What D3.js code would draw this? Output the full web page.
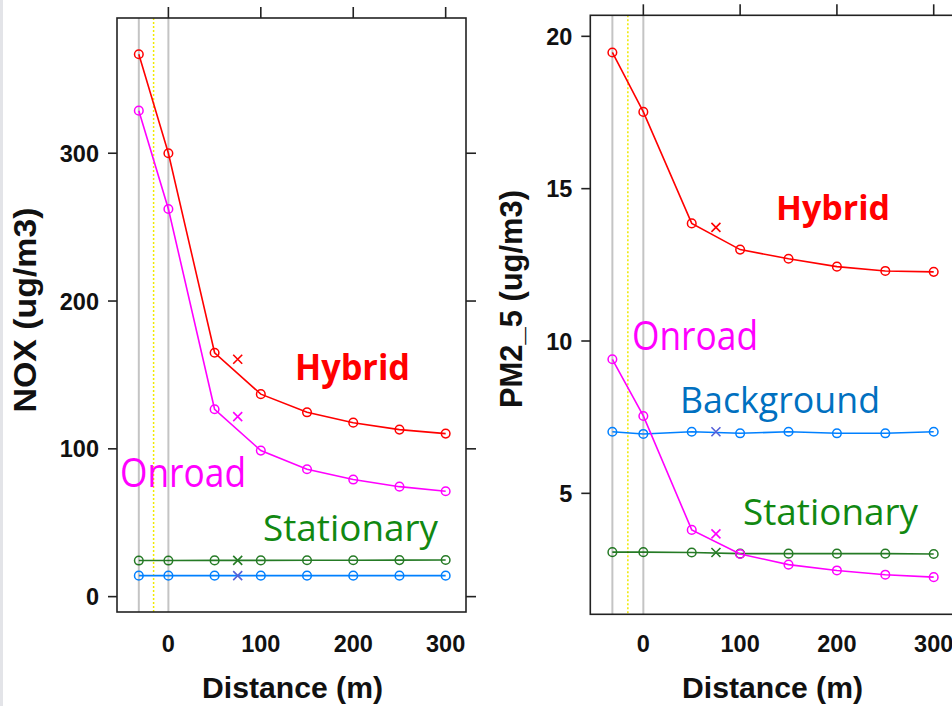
<!DOCTYPE html>
<html>
<head>
<meta charset="utf-8">
<script src="https://cdn.jsdelivr.net/npm/d3@7"></script>
<style>
  body { margin: 0; background: #fff; }
  svg { display: block; }
</style>
</head>
<body>
<svg id="chart"></svg>
<script>
// distances where the model was sampled, plus the odd "x" point at 75 m
const distances = [-32, 0, 50, 100, 150, 200, 250, 300];
const crossDistance = 75;
const seriesNames = ["Background", "Stationary", "Onroad", "Hybrid"];

// NOX panel
const noxBackground = [14.2, 14.2, 14.2, 14.2, 14.2, 14.2, 14.2, 14.2];
const noxStationary = [24.4, 24.4, 24.5, 24.5, 24.6, 24.6, 24.7, 24.8];
const noxOnroad = [328.8, 262.3, 126.8, 98.8, 86.2, 79.2, 74.4, 71.3];
const noxHybrid = [367, 300, 165, 137, 124.7, 117.7, 113, 110.3];
const noxCross = [14.2, 24.5, 121.8, 160.6];
const noxTicks = [0, 100, 200, 300];

// PM2.5 panel
const pmBackground = [7.02, 6.95, 7.02, 6.97, 7.02, 6.97, 6.97, 7.02];
const pmStationary = [3.07, 3.07, 3.06, 3.02, 3.02, 3.02, 3.02, 3.01];
const pmOnroad = [9.40, 7.54, 3.80, 3.01, 2.66, 2.47, 2.33, 2.25];
const pmHybrid = [19.47, 17.52, 13.86, 13.0, 12.7, 12.44, 12.3, 12.27];
const pmCross = [7.02, 3.06, 3.67, 13.73];
const pmTicks = [5, 10, 15, 20];

const xTicks = [0, 100, 200, 300];
const refLines = [-32, 0];
const roadEdge = -16;

const lineColors = { Background: "#0080ff", Stationary: "#006400", Onroad: "#ff00ff", Hybrid: "#ff0000" };
const crossColors = { Background: "#5560d8", Stationary: "#006400", Onroad: "#ff00ff", Hybrid: "#ff0000" };
const labelColors = { Background: "#0070c0", Stationary: "#118811", Onroad: "#ff00ff", Hybrid: "#ff0000" };

const W = 952, H = 706;
const svg = d3.select("#chart").attr("width", W).attr("height", H);

svg.append("rect").attr("width", W).attr("height", H).attr("fill", "#fff");
svg.append("rect").attr("width", 3).attr("height", H).attr("fill", "#e3e4e8");

const panels = [
  {
    frame: { x0: 117, y0: 18, x1: 466, y1: 612 },
    xDomain: [-55.6, 322],
    yDomain: [-10.4, 391.5],
    yTicks: noxTicks,
    values: [noxBackground, noxStationary, noxOnroad, noxHybrid],
    cross: noxCross,
    yTitle: "NOX (ug/m3)", yTitleX: 36, yTitleY: 310, yTitleSize: 32, yTitleLen: 205,
    titleX: 292,
    labels: [
      { name: "Stationary", x: 263, y: 541, len: 175, size: 37, bold: false },
      { name: "Onroad", x: 120, y: 487, len: 126, size: 41, bold: false },
      { name: "Hybrid", x: 295, y: 380, len: 115, size: 35, bold: true }
    ]
  },
  {
    frame: { x0: 590.3, y0: 15.3, x1: 955, y1: 614.3 },
    xDomain: [-54.8, 322],
    yDomain: [1.03, 20.69],
    yTicks: pmTicks,
    values: [pmBackground, pmStationary, pmOnroad, pmHybrid],
    cross: pmCross,
    yTitle: "PM2_5 (ug/m3)", yTitleX: 522, yTitleY: 299, yTitleSize: 31, yTitleLen: 218,
    titleX: 772,
    labels: [
      { name: "Background", x: 680, y: 413, len: 200, size: 36, bold: false },
      { name: "Stationary", x: 743, y: 525, len: 175, size: 37, bold: false },
      { name: "Onroad", x: 632, y: 350, len: 126, size: 41, bold: false },
      { name: "Hybrid", x: 776, y: 220, len: 114, size: 34, bold: true }
    ]
  }
];

panels.forEach(drawPanel);

function drawPanel(p) {
  const f = p.frame;
  const x = d3.scaleLinear().domain(p.xDomain).range([f.x0, f.x1]);
  const y = d3.scaleLinear().domain(p.yDomain).range([f.y1, f.y0]);
  const g = svg.append("g");

  // reference lines (road edges + centre)
  g.selectAll(".ref").data(refLines).join("line")
    .attr("x1", d => x(d)).attr("x2", d => x(d))
    .attr("y1", f.y0).attr("y2", f.y1)
    .attr("stroke", "#c4c4c4").attr("stroke-width", 2);
  g.append("line")
    .attr("x1", x(roadEdge)).attr("x2", x(roadEdge))
    .attr("y1", f.y0).attr("y2", f.y1)
    .attr("stroke", "#f0ea00").attr("stroke-width", 1.5)
    .attr("stroke-dasharray", "2,2");

  // series
  const line = d3.line().x((d, i) => x(distances[i])).y(d => y(d));
  seriesNames.forEach((name, k) => {
    const vals = p.values[k];
    const col = lineColors[name];
    const sg = g.append("g").attr("opacity", name === "Stationary" ? 0.85 : 1);
    sg.append("path").datum(vals)
      .attr("d", line)
      .attr("fill", "none").attr("stroke", col).attr("stroke-width", 1.6);
    sg.selectAll("circle").data(vals).join("circle")
      .attr("cx", (d, i) => x(distances[i])).attr("cy", d => y(d))
      .attr("r", 4.3)
      .attr("fill", "none").attr("stroke", col).attr("stroke-width", 1.5);
    const cx = x(crossDistance), cy = y(p.cross[k]), s = 4.5;
    sg.append("path")
      .attr("d", `M${cx - s},${cy - s}L${cx + s},${cy + s}M${cx - s},${cy + s}L${cx + s},${cy - s}`)
      .attr("stroke", crossColors[name]).attr("stroke-width", 1.6).attr("fill", "none");
  });

  // frame
  g.append("rect")
    .attr("x", f.x0).attr("y", f.y0)
    .attr("width", f.x1 - f.x0).attr("height", f.y1 - f.y0)
    .attr("fill", "none").attr("stroke", "#222").attr("stroke-width", 1.6);

  // ticks: left & right on y, top only on x (labels below)
  const tickFont = "'Liberation Sans', Arial, sans-serif";
  g.selectAll(".yl").data(p.yTicks).join("line")
    .attr("x1", f.x0 - 9).attr("x2", f.x0)
    .attr("y1", d => y(d)).attr("y2", d => y(d))
    .attr("stroke", "#222").attr("stroke-width", 1.6);
  g.selectAll(".yr").data(p.yTicks).join("line")
    .attr("x1", f.x1).attr("x2", f.x1 + 10)
    .attr("y1", d => y(d)).attr("y2", d => y(d))
    .attr("stroke", "#222").attr("stroke-width", 1.6);
  g.selectAll(".ylab").data(p.yTicks).join("text")
    .attr("x", f.x0 - 18).attr("y", d => y(d) + 8.5)
    .attr("text-anchor", "end")
    .attr("font-family", tickFont).attr("font-weight", "bold").attr("font-size", 23.5)
    .attr("fill", "#111")
    .text(d => d);
  g.selectAll(".xt").data(xTicks).join("line")
    .attr("x1", d => x(d)).attr("x2", d => x(d))
    .attr("y1", f.y0 - 11).attr("y2", f.y0)
    .attr("stroke", "#222").attr("stroke-width", 1.6);
  g.selectAll(".xlab").data(xTicks).join("text")
    .attr("x", d => x(d)).attr("y", 652)
    .attr("text-anchor", "middle")
    .attr("font-family", tickFont).attr("font-weight", "bold").attr("font-size", 23.5)
    .attr("fill", "#111")
    .text(d => d);

  // axis titles
  g.append("text")
    .attr("transform", `translate(${p.yTitleX},${p.yTitleY}) rotate(-90)`)
    .attr("text-anchor", "middle")
    .attr("font-family", tickFont).attr("font-weight", "bold")
    .attr("font-size", p.yTitleSize)
    .attr("textLength", p.yTitleLen).attr("lengthAdjust", "spacingAndGlyphs")
    .attr("fill", "#111")
    .text(p.yTitle);
  g.append("text")
    .attr("x", p.titleX - 90).attr("y", 698)
    .attr("font-family", tickFont).attr("font-weight", "bold").attr("font-size", 30)
    .attr("textLength", 181).attr("lengthAdjust", "spacingAndGlyphs")
    .attr("fill", "#111")
    .text("Distance (m)");

  // series labels
  g.selectAll(".lab").data(p.labels).join("text")
    .attr("x", d => d.x).attr("y", d => d.y)
    .attr("font-family", "'Open Sans', 'Noto Sans', sans-serif")
    .attr("font-weight", d => d.bold ? "bold" : "normal")
    .attr("font-size", d => d.size)
    .attr("textLength", d => d.len).attr("lengthAdjust", "spacingAndGlyphs")
    .attr("fill", d => labelColors[d.name])
    .text(d => d.name);
}
</script>
</body>
</html>
